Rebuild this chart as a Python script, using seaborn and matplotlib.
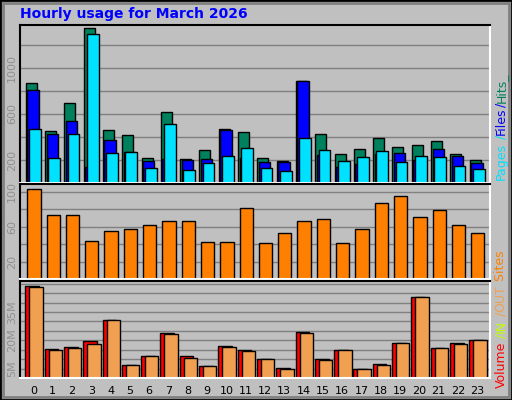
import numpy as np
import pandas as pd
import matplotlib
matplotlib.use("Agg")
import matplotlib.pyplot as plt
import seaborn as sns
from matplotlib.patches import Rectangle

hours = list(range(24))
hits  = [871, 449, 695, 1346, 458, 413, 220, 616, 211, 290, 466, 440,
         220, 194, 889, 422, 255, 299, 387, 317, 334, 361, 255, 202]
files = [810, 422, 537, 141, 370, 273, 194, 211, 202, 211, 458, 220,
         185, 185, 889, 246, 141, 167, 255, 264, 202, 299, 238, 176]
pages = [466, 220, 422, 1294, 264, 273, 132, 510, 114, 176, 238, 308,
         132, 105, 387, 290, 194, 229, 282, 185, 238, 229, 150, 123]
sites = [103, 74, 73, 44, 55, 57, 62, 67, 67, 43, 43, 81,
         41, 53, 67, 69, 41, 57, 87, 95, 71, 79, 62, 53]
vol_total = [48.7, 15.2, 16.2, 19.5, 30.9, 7.0, 11.4, 23.8, 11.4, 6.5, 16.8, 14.6,
             10.3, 5.4, 24.4, 10.3, 14.6, 4.9, 7.6, 18.4, 42.8, 15.7, 18.4, 20.0]
vol_in  = [0.6, 0.1, 0.1, 0.6, 0.1, 0.1, 0.1, 0.1, 0.1, 0.1, 0.1, 0.1,
           0.1, 0.1, 0.1, 0.1, 0.1, 0.1, 0.1, 0.1, 0.1, 0.1, 0.1, 0.1]
vol_out = [48.2, 14.6, 15.7, 17.9, 30.9, 7.0, 11.4, 23.3, 10.8, 6.5, 16.2, 14.1,
           10.3, 4.9, 23.8, 9.7, 14.6, 4.9, 7.0, 18.4, 42.8, 15.7, 17.9, 20.0]

BG = "#C0C0C0"
sns.set_style("white")
plt.rcParams["font.family"] = ["DejaVu Sans"]

W, H = 512, 400
fig = plt.figure(figsize=(W / 100, H / 100), dpi=100, facecolor=BG)


def px_axes(x0, y0, x1, y1):
    return fig.add_axes([x0 / W, 1 - y1 / H, (x1 - x0) / W, (y1 - y0) / H])


def draw_bars(ax, vals, offset, width, color):
    df = pd.DataFrame({"x": np.array(hours) + offset, "y": vals})
    sns.barplot(data=df, x="x", y="y", native_scale=True, width=width,
                color=color, saturation=1, edgecolor="black", linewidth=1, ax=ax)


def style(ax, ymax, step, labelled, fmt):
    ax.set_facecolor(BG)
    ax.set_xlim(-0.69, 23.66)
    ax.set_ylim(0, ymax)
    for v in np.arange(step, ymax, step):
        ax.axhline(v, color="#808080", lw=1, zorder=0)
    ax.set_yticks(labelled)
    ax.set_yticklabels([fmt(v) for v in labelled], rotation=90, va="center",
                       color="#909090", fontsize=8)
    ax.tick_params(length=0, pad=2)
    ax.set_xlabel(""); ax.set_ylabel("")
    for s in ax.spines.values():
        s.set_color("white"); s.set_linewidth(1.5)
    ax.spines["left"].set_color("black")
    ax.spines["top"].set_color("black")


ax1 = px_axes(20, 25, 490, 183)
draw_bars(ax1, hits, -0.11, 0.57, "#00805C")
draw_bars(ax1, files, -0.02, 0.59, "#0000FF")
draw_bars(ax1, pages, 0.08, 0.61, "#00E0FF")
style(ax1, 1373, 200, [200, 600, 1000], lambda v: str(v))
ax1.set_xticks([])

ax2 = px_axes(20, 184, 490, 279)
draw_bars(ax2, sites, 0.03, 0.69, "#FF8000")
style(ax2, 109, 20, [20, 60, 100], lambda v: str(v))
ax2.set_xticks([])

ax3 = px_axes(20, 281, 490, 378)
draw_bars(ax3, vol_total, -0.06, 0.71, "#FF0000")
draw_bars(ax3, vol_in, -0.22, 0.12, "#C0FF00")
draw_bars(ax3, vol_out, 0.14, 0.69, "#F0A050")
style(ax3, 51.4, 5, [5, 20, 35], lambda v: f"{v}M")
ax3.set_xticks(hours)
ax3.set_xticklabels([str(h) for h in hours], fontsize=8, color="black")
ax3.tick_params(axis="x", pad=6)

fig.text(20 / W, 1 - 14 / H, "Hourly usage for March 2026", color="#0000FF",
         fontsize=10, fontweight="bold", va="center")

# right-hand legend, stacked vertical text measured with the renderer
renderer = fig.canvas.get_renderer()


def vtext(parts, x, y_start):
    y = y_start
    for txt, col in parts:
        t = fig.text(x / W, 1 - y / H, txt, rotation=90, color=col, fontsize=9,
                     ha="center", va="bottom")
        y -= t.get_window_extent(renderer).height

vtext([("Pages", "#00E0FF"), (" /", "#00E0FF"), ("Files", "#0000FF"), ("/", "#0000FF"),
       ("Hits_", "#00805C")], 501, 180)
vtext([("Volume", "#FF0000"), (" /", "#C0FF00"), ("IN", "#C0FF00"), (" /", "#F0A050"),
       ("OUT", "#F0A050"), (" Sites", "#FF8000")], 501, 388)

fig.patches.append(Rectangle((0, 0), 1, 1, transform=fig.transFigure, fill=False,
                             edgecolor="black", lw=2))
fig.patches.append(Rectangle((3 / W, 3 / H), 1 - 6 / W, 1 - 6 / H, transform=fig.transFigure,
                             fill=False, edgecolor="#808080", lw=2))

fig.savefig("out.png", dpi=100, facecolor=BG)
